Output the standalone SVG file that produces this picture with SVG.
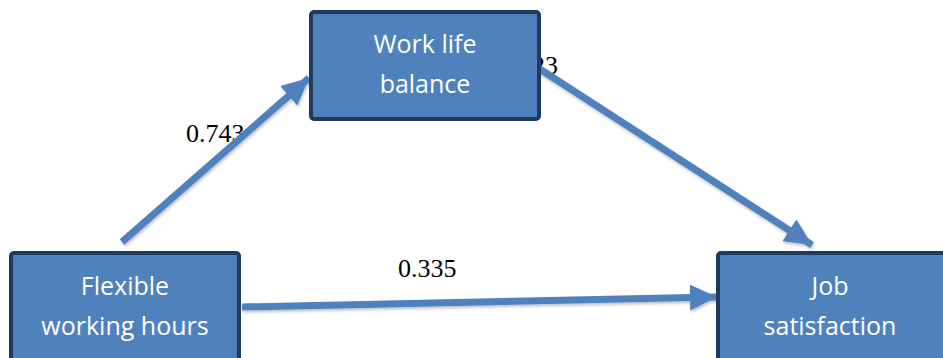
<svg xmlns="http://www.w3.org/2000/svg" width="943" height="358" viewBox="0 0 943 358">
<style>
.box{fill:#4F81BD;stroke:#1F3A5C;stroke-width:4}
.nt{font-family:"Open Sans","Liberation Sans",sans-serif;font-size:25px;fill:#ffffff;text-anchor:middle}
.lbl{font-family:"Liberation Serif",serif;font-size:26px;fill:#000000}
.conn{stroke:#4F81BD;stroke-width:7;fill:none}
</style>
<defs>
<marker id="ah" markerUnits="userSpaceOnUse" markerWidth="30" markerHeight="26" refX="27" refY="13" orient="auto">
<path d="M0,0 L27,13 L0,26 Z" fill="#4F81BD"/>
</marker>
<filter id="sh" x="-10%" y="-10%" width="120%" height="120%">
<feDropShadow dx="1" dy="2" stdDeviation="1.5" flood-color="#000" flood-opacity="0.25"/>
</filter>
</defs>
<g id="labels">
<text class="lbl" x="186" y="142">0.743</text>
<text class="lbl" x="532" y="74">23</text>
<text class="lbl" x="398" y="277">0.335</text>
</g>
<g id="connectors" filter="url(#sh)">
<line class="conn" x1="122" y1="242" x2="309" y2="78" marker-end="url(#ah)"/>
<line class="conn" x1="535" y1="66" x2="812" y2="245" marker-end="url(#ah)"/>
<line class="conn" x1="242" y1="307" x2="717" y2="297" marker-end="url(#ah)"/>
</g>
<g id="work-life-balance">
<rect class="box" x="311" y="12" width="228" height="107" rx="3"/>
<text class="nt" x="425" y="53">Work life</text>
<text class="nt" x="425" y="93">balance</text>
</g>
<g id="flexible-working-hours">
<rect class="box" x="11" y="253" width="228" height="110" rx="3"/>
<text class="nt" x="125" y="295">Flexible</text>
<text class="nt" x="125" y="335">working hours</text>
</g>
<g id="job-satisfaction">
<rect class="box" x="718" y="253" width="230" height="110" rx="3"/>
<text class="nt" x="830" y="295">Job</text>
<text class="nt" x="830" y="335">satisfaction</text>
</g>
</svg>
